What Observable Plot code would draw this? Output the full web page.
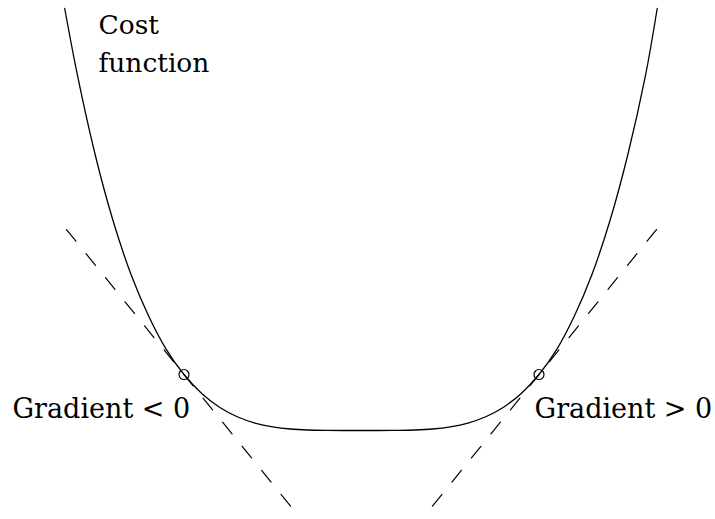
<!DOCTYPE html>
<html>
<head>
<meta charset="utf-8">
<script src="https://cdn.jsdelivr.net/npm/d3@7"></script>
<script src="https://cdn.jsdelivr.net/npm/@observablehq/plot@0.6"></script>
<style>
  html, body { margin: 0; padding: 0; background: #fff; }
  svg { display: block; }
  svg text { font-family: "DejaVu Serif", serif !important; }
</style>
</head>
<body>
<div id="chart"></div>
<script>
// Cost function curve (point of tangency = 1)
const curveX = [-1.672, -1.6, -1.5, -1.4, -1.3, -1.2, -1.1, -1.0, -0.9, -0.8, -0.7, -0.6, -0.5, -0.4, -0.3, -0.2, -0.1, 0,
                0.1, 0.2, 0.3, 0.4, 0.5, 0.6, 0.7, 0.8, 0.9, 1.0, 1.1, 1.2, 1.3, 1.4, 1.5, 1.6, 1.666];
const curveY = [7.536, 6.34, 4.92, 3.75, 2.80, 2.05, 1.45, 1.0, 0.661, 0.416, 0.246, 0.134, 0.066, 0.027, 0.009, 0.002, 0.0, 0,
                0.0, 0.002, 0.009, 0.027, 0.066, 0.134, 0.246, 0.416, 0.661, 1.0, 1.45, 2.05, 2.80, 3.75, 4.92, 6.34, 7.536];

// Tangent lines (start and end points)
const tangentNames = ["left", "left", "right", "right"];
const tangentX = [-1.662, -0.366, 1.662, 0.366];
const tangentY = [3.589, -1.482, 3.589, -1.482];

// Points of tangency
const pointX = [-1.0, 1.0];
const pointY = [1.0, 1.0];

// Labels
const gradientText = ["Gradient < 0", "Gradient > 0"];
const gradientX = [-1.966, 0.975];
const gradientY = [0.232, 0.232];
const costText = ["Cost\nfunction"];
const costX = [-1.482];
const costY = [6.411];

const curve = curveX.map((x, i) => ({x, y: curveY[i]}));
const tangents = tangentX.map((x, i) => ({x, y: tangentY[i], side: tangentNames[i]}));
const points = pointX.map((x, i) => ({x, y: pointY[i]}));
const gradLabels = gradientText.map((t, i) => ({t, x: gradientX[i], y: gradientY[i]}));
const costLabels = costText.map((t, i) => ({t, x: costX[i], y: costY[i]}));

const chart = Plot.plot({
  width: 715,
  height: 519,
  margin: 0,
  style: {background: "#fff"},
  x: {domain: [-2.0338, 1.9944], axis: null},
  y: {domain: [-1.589, 7.679], axis: null},
  marks: [
    Plot.line(tangents, {x: "x", y: "y", z: "side", stroke: "black", strokeWidth: 1.2, strokeDasharray: "15,16"}),
    Plot.line(curve, {x: "x", y: "y", curve: "catmull-rom", stroke: "black", strokeWidth: 1.3}),
    Plot.dot(points, {x: "x", y: "y", r: 5, stroke: "black", strokeWidth: 1.2, fill: "none"}),
    Plot.text(gradLabels, {x: "x", y: "y", text: "t", textAnchor: "start", lineAnchor: "bottom",
      fontSize: 27, fill: "black"}),
    Plot.text(costLabels, {x: "x", y: "y", text: "t", textAnchor: "start", lineAnchor: "bottom",
      lineHeight: 1.434, fontSize: 26.5, fill: "black"})
  ]
});
document.getElementById("chart").appendChild(chart);
</script>
</body>
</html>
